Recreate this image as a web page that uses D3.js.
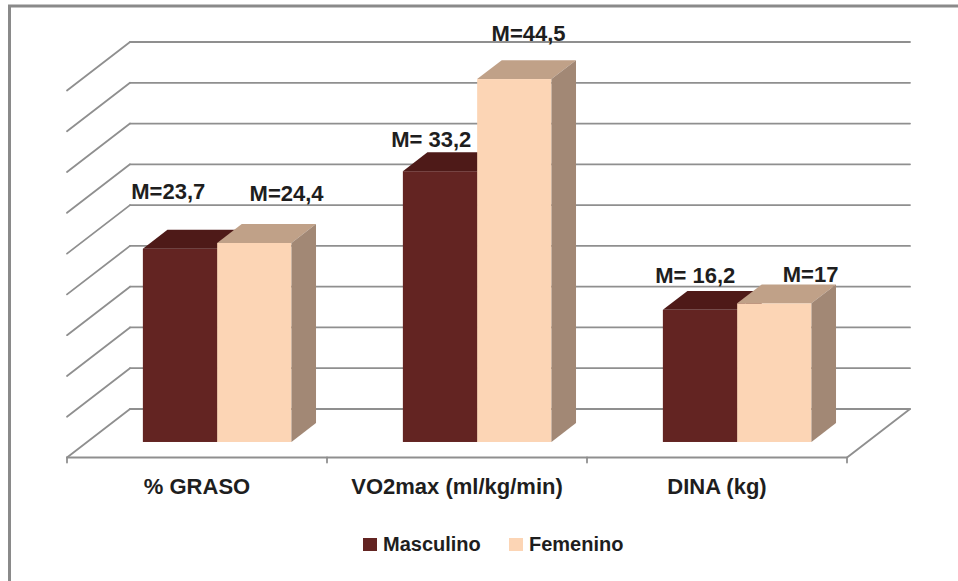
<!DOCTYPE html>
<html>
<head>
<meta charset="utf-8">
<script src="https://cdn.jsdelivr.net/npm/d3@7/dist/d3.min.js"></script>
<style>
  html, body { margin: 0; padding: 0; background: #fff; }
  svg { display: block; }
  text { font-family: "Liberation Sans", Arial, sans-serif; font-weight: bold; fill: #1e1e1e; }
</style>
</head>
<body>
<svg id="chart" width="958" height="581"></svg>
<script>
// ---- data ----
const categories = ["% GRASO", "VO2max (ml/kg/min)", "DINA (kg)"];
const series = ["Masculino", "Femenino"];
const masculino = [23.7, 33.2, 16.2];
const femenino = [24.4, 44.5, 17];
const masculinoLabels = ["M=23,7", "M= 33,2", "M= 16,2"];
const femeninoLabels = ["M=24,4", "M=44,5", "M=17"];
const valueTicks = [0, 5, 10, 15, 20, 25, 30, 35, 40, 45];

// ---- layout ----
const W = 958, H = 581;
const wall = { left: 130, right: 910, top: 42, bottom: 409 };
const depth = { dx: -63, dy: 48.5 };       // vector from back wall to front edge of floor
const tFront = 0.68, tBack = 0.29;          // depth fractions of bar faces
const colors = {
  Masculino: { front: "#632422", top: "#4e1a18", side: "#451614" },
  Femenino:  { front: "#fcd5b5", top: "#c0a188", side: "#a28875" }
};
const gridColor = "#8f8f8f";
// manual offsets of the value labels relative to each bar's top face
const labelNudge = {
  Masculino: [[-24, -31], [-21, -5], [-17, -8]],
  Femenino:  [[20, -23], [2, -19], [24, -2]]
};

const svg = d3.select("#chart");

// chart-area border
svg.append("rect")
  .attr("x", 9.5).attr("y", 6)
  .attr("width", W + 20).attr("height", H + 20)
  .attr("fill", "#fff").attr("stroke", "#8a8a8a").attr("stroke-width", 3);

const y = d3.scaleLinear().domain([0, 45]).range([wall.bottom, wall.top]);
const x0 = d3.scaleBand().domain(categories).range([wall.left, wall.right]);
const x1 = d3.scaleBand().domain(series).range([0, x0.bandwidth()])
  .paddingInner(0).paddingOuter(0.75);

// walls: back-wall gridlines and side-wall diagonals
const grid = svg.append("g").attr("fill", "none").attr("stroke", gridColor)
  .attr("stroke-width", 1.8).attr("stroke-linecap", "round");
valueTicks.forEach(v => {
  const yy = y(v);
  grid.append("line").attr("x1", wall.left).attr("y1", yy).attr("x2", wall.right).attr("y2", yy);
  grid.append("line").attr("x1", wall.left).attr("y1", yy)
    .attr("x2", wall.left + depth.dx).attr("y2", yy + depth.dy);
});
// floor front and right edges
const fy = wall.bottom + depth.dy;
grid.append("path").attr("d", d3.line()([
  [wall.left + depth.dx, fy],
  [wall.right + depth.dx, fy],
  [wall.right, wall.bottom]
]));
// category tick marks on the floor front edge
const boundaries = categories.map(c => x0(c)).concat([wall.right]);
boundaries.forEach(bx => {
  grid.append("line").attr("x1", bx + depth.dx).attr("y1", fy)
    .attr("x2", bx + depth.dx).attr("y2", fy + 5);
});

// bars
const ddx = (tBack - tFront) * depth.dx;
const ddy = (tBack - tFront) * depth.dy;
const seriesValues = { Masculino: masculino, Femenino: femenino };
const seriesLabels = { Masculino: masculinoLabels, Femenino: femeninoLabels };
const bars = svg.append("g");
const labels = svg.append("g").attr("text-anchor", "middle").style("font-size", "22px");

categories.forEach((cat, i) => {
  series.forEach(s => {
    const v = seriesValues[s][i];
    const bw = x1.bandwidth();
    const fx = x0(cat) + x1(s) + tFront * depth.dx;
    const base = y(0) + tFront * depth.dy;
    const top = y(v) + tFront * depth.dy;
    const c = colors[s];
    const g = bars.append("g");
    g.append("rect").attr("x", fx).attr("y", top).attr("width", bw).attr("height", base - top)
      .attr("fill", c.front);
    g.append("path").attr("fill", c.top).attr("d", d3.line()([
      [fx, top], [fx + bw, top], [fx + bw + ddx, top + ddy], [fx + ddx, top + ddy]
    ]) + "Z");
    g.append("path").attr("fill", c.side).attr("d", d3.line()([
      [fx + bw, top], [fx + bw + ddx, top + ddy], [fx + bw + ddx, base + ddy], [fx + bw, base]
    ]) + "Z");

    const [nx, ny] = labelNudge[s][i];
    labels.append("text")
      .attr("x", fx + bw / 2 + ddx / 2 + nx)
      .attr("y", top + ddy + ny)
      .text(seriesLabels[s][i]);
  });
});

// category axis along the floor front edge
const axis = d3.axisBottom(x0).tickSize(0).tickPadding(21);
const ax = svg.append("g")
  .attr("transform", `translate(${depth.dx},${fy})`)
  .call(axis);
ax.select(".domain").remove();
ax.selectAll("text")
  .style("font-family", "'Liberation Sans', Arial, sans-serif")
  .style("font-weight", "bold")
  .style("font-size", "22px")
  .attr("fill", "#1e1e1e");

// legend
const legend = svg.append("g").attr("transform", "translate(363,538)");
const legendX = [0, 146];
series.forEach((s, i) => {
  const lg = legend.append("g").attr("transform", `translate(${legendX[i]},0)`);
  lg.append("rect").attr("width", 14).attr("height", 13).attr("fill", colors[s].front);
  lg.append("text").attr("x", 20).attr("y", 13).style("font-size", "20px").text(s);
});
</script>
</body>
</html>
